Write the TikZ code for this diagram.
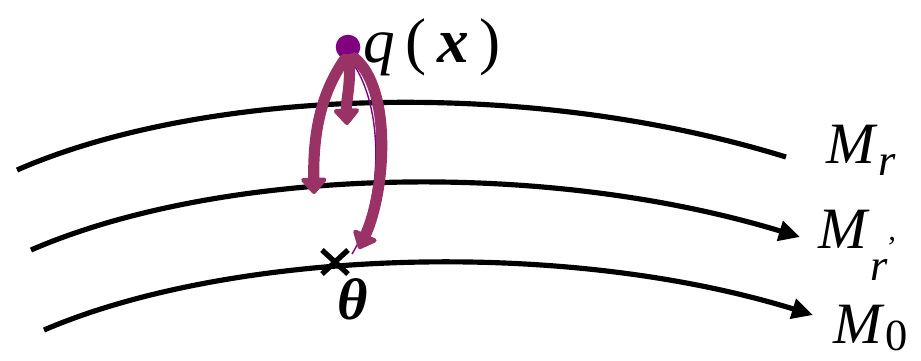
\documentclass[tikz,border=0pt]{standalone}
\usepackage{fontspec}
\setmainfont{Liberation Serif}
\usetikzlibrary{arrows.meta, calc}
\definecolor{plum}{RGB}{153,51,102}
\definecolor{dotpurple}{RGB}{128,0,128}
\newcommand{\subsize}{\fontsize{38}{44}\selectfont}

\begin{document}
\begin{tikzpicture}[
  x=0.03cm, y=-0.03cm,
  layer/.style={line width=4.4pt},
  layerarrow/.style={layer, -{Triangle[length=18pt,width=17pt]}},
  flow/.style={draw=plum, line width=9.5pt, line cap=round,
               -{Triangle[length=15pt,width=25pt,round]}},
  lbl/.style={font=\fontsize{50}{56}\selectfont, inner sep=0pt, anchor=base west},
]
\useasboundingbox (0,0) rectangle (921,360);
% manifolds
\coordinate (mr-start) at (17,170);
\coordinate (mr-end) at (786,157);
\coordinate (mp-start) at (31,250);
\coordinate (mp-end) at (800,237);
\coordinate (m0-start) at (44,330);
\coordinate (m0-end) at (813,315);
\draw[layer] (mr-start) .. controls (200,90) and (520,75) .. (mr-end);
\draw[layerarrow] (mp-start) .. controls (220,168) and (540,158) .. (mp-end);
\draw[layerarrow] (m0-start) .. controls (230,250) and (560,237) .. (m0-end);
% labels
\node[lbl] (mr) at (826,163) {\textit{M}\hspace{1pt}\raisebox{-11pt}{\subsize\textit{r}}};
\node[lbl] (mp) at (818,248) {\textit{M}\hspace{1pt}\raisebox{-28pt}{\subsize\textit{r}}\hspace{-3pt}\raisebox{-8pt}{\fontsize{26}{30}\selectfont\textit{'}}};
\node[lbl] (m0) at (833,343) {\textit{M}\hspace{1pt}\raisebox{-6pt}{\subsize 0}};
% point q(x) and theta
\node[circle, fill=dotpurple, inner sep=0pt, minimum size=21pt] (qx) at (348,47) {};
\node[lbl, font=\fontsize{54}{60}\selectfont] (qlabel) at (363,62) {\textit{q}\,(\,\textbf{\textit{x}}\,)};
\coordinate (theta-pt) at (335,262);
\node[lbl, anchor=base] (theta) at (353,319) {\textbf{\textit{θ}}};
\draw[line width=4.5pt] ($(theta-pt)+(-13,-12)$) -- ($(theta-pt)+(13,12)$)
  ($(theta-pt)+(-13,12)$) -- ($(theta-pt)+(13,-12)$);
% paths from q(x)
\coordinate (end-r) at (314,194);
\coordinate (end-s) at (347,125);
\coordinate (end-0) at (359,249);
\draw[dotpurple, line width=1.2pt] (qx.-80) .. controls (388,110) and (380,210) .. (352,254);
\draw[flow] (qx.-105) .. controls (322,92) and (313,130) .. (end-r);
\draw[flow] (qx.-85) .. controls (351,85) and (346,100) .. (end-s);
\draw[flow] (qx.-60) .. controls (392,88) and (386,190) .. (end-0);
\end{tikzpicture}
\end{document}
